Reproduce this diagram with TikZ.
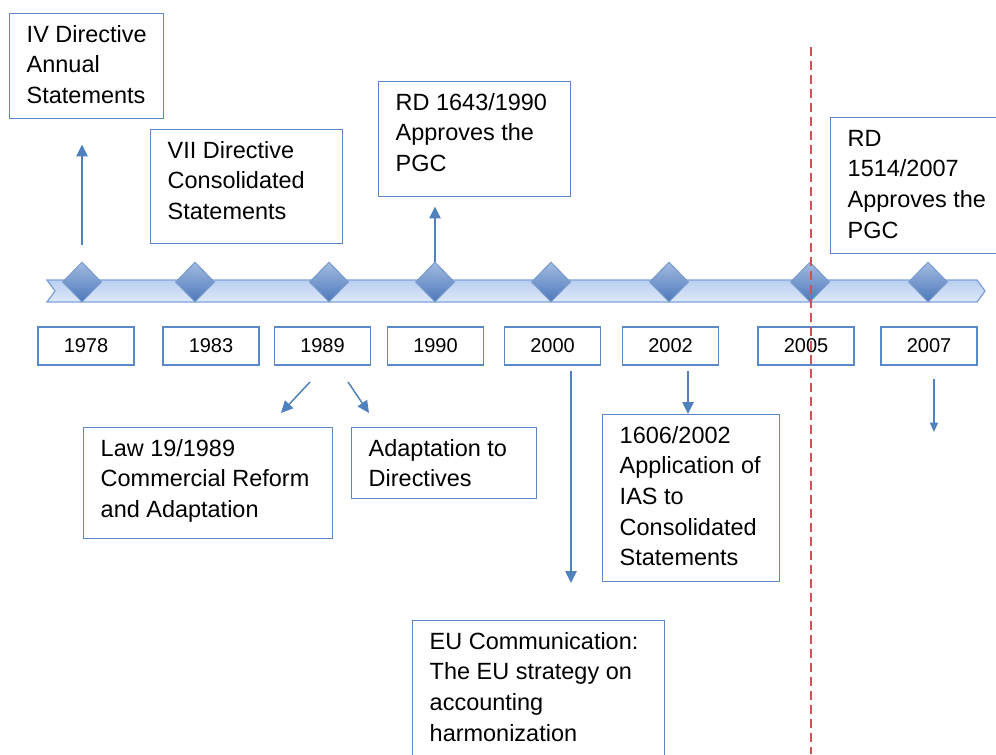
\documentclass[tikz,border=0pt]{standalone}
\usepackage{fontspec}
\setmainfont{Liberation Sans}
\usetikzlibrary{shapes.geometric,arrows.meta}

\definecolor{boxblue}{RGB}{91,136,198}
\definecolor{arrowblue}{RGB}{79,129,189}
\definecolor{barlight}{RGB}{222,233,251}
\definecolor{bartop}{RGB}{185,206,240}
\definecolor{barline}{RGB}{125,162,218}
\definecolor{marktop}{RGB}{162,187,225}
\definecolor{markbot}{RGB}{76,120,186}
\definecolor{cutred}{RGB}{205,82,82}

% text of an event box: fixed size, lines start at the top left
\newcommand{\boxlines}[3]{\parbox[c][#2][t]{#1}{\vspace*{5.5pt}\leftskip=12.75pt\strut #3}}

\tikzset{every picture/.style={line width=0.75pt}}
\tikzset{
	evbox/.style={draw=boxblue, line width=1.1pt, inner sep=0pt, anchor=north west, font=\fontsize{17.6}{22.9}\selectfont},
	yearbox/.style={draw=boxblue, line width=1.1pt, minimum width=72pt, minimum height=28.5pt, inner sep=0pt, font=\fontsize{15}{18}\selectfont},
	marker/.style={diamond, shape aspect=1, draw=markbot!75!white, top color=marktop, bottom color=markbot, minimum width=29.25pt, minimum height=30pt, inner sep=0pt},
	arr/.style={draw=arrowblue, line width=1.1pt, -{Triangle[length=9pt,width=8.5pt]}},
}

\begin{document}
\begin{tikzpicture}[x=0.75pt,y=0.75pt,yscale=-1,xscale=1]
	\useasboundingbox (0,0) rectangle (996,754);

	% time bar
	\draw [draw=barline, line width=1pt, top color=bartop, bottom color=barlight] (47,280) -- (977,280) -- (985,291) -- (977,302) -- (47,302) -- (55,291) -- cycle;

	% markers on the bar
	\node [marker] (m1978) at (82,282) {};
	\node [marker] (m1983) at (195,282) {};
	\node [marker] (m1989) at (329,282) {};
	\node [marker] (m1990) at (435,282) {};
	\node [marker] (m2000) at (551,282) {};
	\node [marker] (m2002) at (669,282) {};
	\node [marker] (m2005) at (810,282) {};
	\node [marker] (m2007) at (928,282) {};

	% years
	\node [yearbox] (y1978) at (86,346) {1978};
	\node [yearbox] (y1983) at (211,346) {1983};
	\node [yearbox] (y1989) at (322.5,346) {1989};
	\node [yearbox] (y1990) at (435.5,346) {1990};
	\node [yearbox] (y2000) at (552.5,346) {2000};
	\node [yearbox] (y2002) at (670.5,346) {2002};
	\node [yearbox] (y2005) at (806,346) {2005};
	\node [yearbox] (y2007) at (929,346) {2007};

	% events above the bar
	\node [evbox] (iv) at (9,13) {\boxlines{115.5pt}{78.75pt}{IV Directive\\Annual\\Statements}};
	\node [evbox] (vii) at (150,129) {\boxlines{144pt}{85.5pt}{VII Directive\\Consolidated\\Statements}};
	\node [evbox] (rd90) at (378,81) {\boxlines{144pt}{86.25pt}{RD 1643/1990\\Approves the\\PGC}};
	\node [evbox] (rd07) at (830,117) {\boxlines{131.25pt}{102pt}{RD\\1514/2007\\Approves the\\PGC}};

	% events below the bar
	\node [evbox] (law) at (83,427) {\boxlines{186.75pt}{83.25pt}{Law 19/1989\\Commercial Reform\\and Adaptation}};
	\node [evbox] (adapt) at (351,427) {\boxlines{138.75pt}{53.25pt}{Adaptation to\\Directives}};
	\node [evbox] (ias) at (602,414) {\boxlines{132.75pt}{125.25pt}{1606/2002\\Application of\\IAS to\\Consolidated\\Statements}};
	\node [evbox] (eu) at (412,620) {\boxlines{189pt}{108.75pt}{EU Communication:\\The EU strategy on\\accounting\\harmonization}};

	% arrows
	\coordinate (c89l) at (310,382);
	\coordinate (c89r) at (348,382);
	\coordinate (c2000) at (571,371);
	\coordinate (c2002) at (688,371);
	\coordinate (c2007) at (934,379);
	\coordinate (e2007) at (934,432);

	\draw [arr, shorten <=12.75pt, shorten >=18.75pt] (m1978.north) -- (m1978.north |- iv.south);
	\draw [arr, shorten >=6.75pt] (m1990.north) -- (m1990.north |- rd90.south);
	\draw [arr] (c89l) -- (281,413);
	\draw [arr] (c89r) -- (369,413);
	\draw [arr, shorten >=27.75pt] (c2000) -- (c2000 |- eu.north);
	\draw [arr] (c2002) -- (c2002 |- ias.north);
	\draw [arr, -{Triangle[length=7pt,width=6pt]}] (c2007) -- (e2007);

	% 2005 cut
	\draw [cutred, line width=1.5pt, dash pattern=on 6.5pt off 4pt] (811,47) -- (811,754);

\end{tikzpicture}
\end{document}
